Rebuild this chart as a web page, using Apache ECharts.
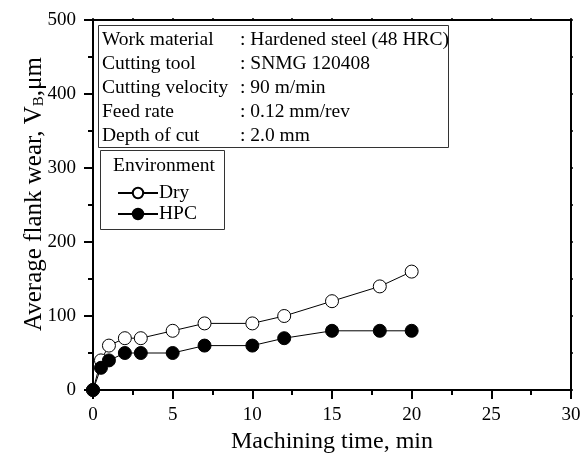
<!DOCTYPE html>
<html><head><meta charset="utf-8">
<script src="https://cdn.jsdelivr.net/npm/echarts@6/dist/echarts.min.js"></script>
<style>html,body{margin:0;padding:0;background:#fff}#c{width:586px;height:455px}</style>
</head><body><div id="c"></div>
<script>
const timeDry = [0, 0.5, 1, 2, 3, 5, 7, 10, 12, 15, 18, 20];
const wearDry = [0, 40, 60, 70, 70, 80, 90, 90, 100, 120, 140, 160];
const timeHPC = [0, 0.5, 1, 2, 3, 5, 7, 10, 12, 15, 18, 20];
const wearHPC = [0, 30, 40, 50, 50, 50, 60, 60, 70, 80, 80, 80];
const infoLabels = ['Work material', 'Cutting tool', 'Cutting velocity', 'Feed rate', 'Depth of cut'];
const infoValues = [': Hardened steel (48 HRC)', ': SNMG 120408', ': 90 m/min', ': 0.12 mm/rev', ': 2.0 mm'];
const seriesNames = ['Dry', 'HPC'];

const FONT = "'Liberation Serif', 'Times New Roman', serif";
const chart = echarts.init(document.getElementById('c'));

const graphic = [
  {type:'rect', shape:{x:98.5, y:25.5, width:350, height:122}, style:{fill:'#fff', stroke:'#333', lineWidth:1}, z:10},
  {type:'rect', shape:{x:100.5, y:150.5, width:124, height:79}, style:{fill:'#fff', stroke:'#333', lineWidth:1}, z:10},
  {type:'text', x:113, y:166, style:{text:'Environment', font:'19.5px '+FONT, fill:'#000', verticalAlign:'middle'}, z:11}
];
infoLabels.forEach((t,i)=>{
  graphic.push({type:'text', x:102, y:40+i*24, style:{text:t, font:'19.5px '+FONT, fill:'#000', verticalAlign:'middle'}, z:11});
  graphic.push({type:'text', x:240, y:40+i*24, style:{text:infoValues[i], font:'19.5px '+FONT, fill:'#000', verticalAlign:'middle'}, z:11});
});

const mainAxis = {
  axisLine:{onZero:false, lineStyle:{color:'#000', width:2}},
  axisTick:{inside:false, length:9, lineStyle:{color:'#000', width:2}},
  minorTick:{show:true, splitNumber:2, length:5, lineStyle:{color:'#000', width:2}},
  splitLine:{show:false}
};
const mirrorAxis = {
  axisLine:{onZero:false, lineStyle:{color:'#000', width:2}},
  axisTick:{inside:false, length:2, lineStyle:{color:'#000', width:1.5}},
  minorTick:{show:true, splitNumber:2, length:2, lineStyle:{color:'#000', width:1.5}},
  axisLabel:{show:false},
  splitLine:{show:false}
};

chart.setOption({
  animation:false,
  backgroundColor:'#fff',
  textStyle:{fontFamily:FONT},
  grid:{left:93, right:15, top:20, bottom:65, containLabel:false, outerBoundsMode:'none'},
  graphic: graphic,
  legend:{
    data:seriesNames, orient:'vertical', left:112, top:178, itemWidth:40, itemHeight:13, itemGap:1,
    textStyle:{fontFamily:FONT, fontSize:19.5, color:'#000', padding:[0,0,0,-4]}, z:12
  },
  xAxis:[
    Object.assign({type:'value', min:0, max:30, interval:5, position:'bottom',
      name:'Machining time, min', nameLocation:'middle', nameGap:40, nameMoveOverlap:false,
      nameTextStyle:{fontFamily:FONT, fontSize:24, color:'#000'},
      axisLabel:{fontFamily:FONT, fontSize:19, color:'#000', margin:16}}, mainAxis),
    Object.assign({type:'value', min:0, max:30, interval:5, position:'top'}, mirrorAxis)
  ],
  yAxis:[
    Object.assign({type:'value', min:0, max:500, interval:100, position:'left',
      name:'Average flank wear, V{sub|B},μm', nameLocation:'middle', nameGap:46, nameMoveOverlap:false,
      nameTextStyle:{fontFamily:FONT, fontSize:25, color:'#000', padding:[0,0,0,22],
        rich:{sub:{fontFamily:FONT, fontSize:15, color:'#000', verticalAlign:'bottom', padding:[11,0,0,0]}}},
      axisLabel:{fontFamily:FONT, fontSize:19, color:'#000', margin:17}}, mainAxis),
    Object.assign({type:'value', min:0, max:500, interval:100, position:'right'}, mirrorAxis)
  ],
  series:[
    {name:'Dry', type:'line', z:2, data:timeDry.map((t,i)=>[t, wearDry[i]]), symbol:'circle', symbolSize:13,
      lineStyle:{color:'#000', width:1}, itemStyle:{color:'#fff', borderColor:'#000', borderWidth:1}},
    {name:'HPC', type:'line', z:3, data:timeHPC.map((t,i)=>[t, wearHPC[i]]), symbol:'circle', symbolSize:13,
      lineStyle:{color:'#000', width:1}, itemStyle:{color:'#000', borderColor:'#000', borderWidth:1}}
  ]
});
</script></body></html>
